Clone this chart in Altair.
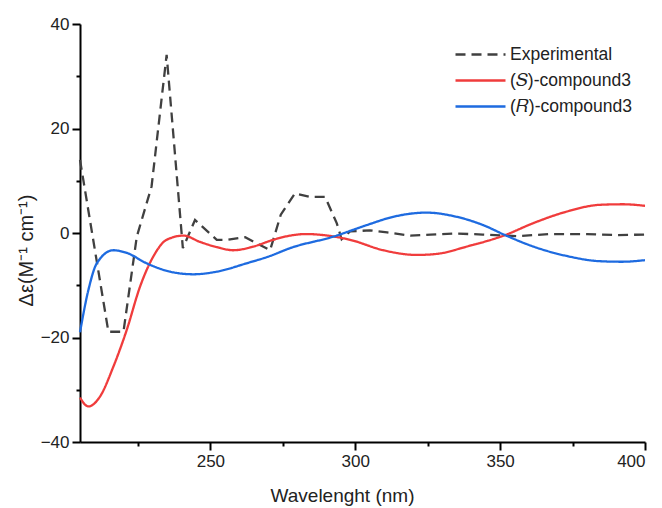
import altair as alt
import pandas as pd

# Experimental CD spectrum
exp_nm = [205, 214.8, 220, 224.6, 229.7, 234.9, 240.5, 244.7, 252.2, 256, 262, 270.6,
          274.3, 279.2, 284.4, 289.6, 293.6, 295.3, 298.2, 305, 311, 319, 326, 335,
          344, 356, 367, 380, 390, 400]
exp_val = [14, -18.9, -18.9, -0.7, 8.9, 34.1, -2.9, 2.5, -1.3, -1.3, -0.8, -3.3,
           3.5, 7.6, 6.9, 6.9, 1.9, -1.2, 0.3, 0.5, 0.1, -0.5, -0.3, -0.1,
           -0.3, -0.6, -0.2, -0.2, -0.4, -0.3]

# (S)-compound3 calculated
s_nm = [205, 207.9, 211.9, 216.5, 221.1, 225.7, 230.3, 234.9, 240.7, 246.4, 252.2, 257.9,
        264.8, 271.7, 277.5, 283, 289, 298.2, 309.7, 321.2, 328.1, 338.5, 351.7, 361.5,
        373, 384.5, 392.5, 400]
s_val = [-31.5, -33.2, -31.3, -25.6, -18.6, -10.3, -4.5, -1.3, -0.5, -1.7, -2.7, -3.3,
         -2.6, -1.3, -0.5, -0.2, -0.4, -1.3, -3.3, -4.2, -4.0, -2.6, -0.4, 1.9,
         4.1, 5.4, 5.5, 5.2]

# (R)-compound3 calculated
r_nm = [205, 207.9, 210.8, 216.5, 221.1, 228, 236.1, 244.1, 252.2, 262.5, 270.6, 277.5,
        292.4, 303.9, 313.1, 324.6, 335, 344.2, 351.7, 361.5, 373, 384.5, 392, 400]
r_val = [-19, -10.9, -5.8, -3.3, -3.8, -5.8, -7.4, -7.9, -7.4, -5.8, -4.4, -2.9,
         -0.7, 1.5, 3.1, 3.9, 3.1, 1.5, -0.4, -2.6, -4.4, -5.4, -5.5, -5.2]

series_names = ["Experimental", "(𝑆)-compound3", "(𝑅)-compound3"]
series_colors = ["#404040", "#F03C3C", "#1E6BE0"]
series_dash = [[10, 6], [1, 0], [1, 0]]

exp_df = pd.DataFrame({"nm": exp_nm, "val": exp_val, "series": series_names[0]})
calc_df = pd.concat([
    pd.DataFrame({"nm": s_nm, "val": s_val, "series": series_names[1]}),
    pd.DataFrame({"nm": r_nm, "val": r_val, "series": series_names[2]}),
])

FONT = "Liberation Sans"

x_enc = alt.X("nm:Q", scale=alt.Scale(domain=[205, 400], nice=False, zero=False),
              axis=alt.Axis(values=[225, 250, 275, 300, 325, 350, 375, 400],
                            labelExpr="datum.value % 50 === 0 ? datum.label : ''",
                            tickSize={"condition": {"test": "datum.value % 50 === 0", "value": 8}, "value": 4},
                            title="Wavelenght (nm)", titleX=262, titlePadding=17,
                            titleFontSize=19))
y_enc = alt.Y("val:Q", scale=alt.Scale(domain=[-40, 40], nice=False),
              axis=alt.Axis(values=[-40, -30, -20, -10, 0, 10, 20, 30, 40],
                            labelExpr="datum.value % 20 === 0 ? datum.label : ''",
                            tickSize={"condition": {"test": "datum.value % 20 === 0", "value": 8}, "value": 4},
                            title="Δε(M⁻¹ cm⁻¹)", titlePadding=4, titleY=226,
                            titleFontSize=20))
color_enc = alt.Color("series:N", scale=alt.Scale(domain=series_names, range=series_colors),
                      sort=series_names, legend=alt.Legend(title=None))
dash_enc = alt.StrokeDash("series:N", scale=alt.Scale(domain=series_names, range=series_dash),
                          sort=series_names, legend=alt.Legend(title=None))

exp_line = alt.Chart(exp_df).mark_line(strokeWidth=2.3, interpolate="linear").encode(
    x=x_enc, y=y_enc, color=color_enc, strokeDash=dash_enc)
calc_line = alt.Chart(calc_df).mark_line(strokeWidth=2.3, interpolate="monotone").encode(
    x=x_enc, y=y_enc, color=color_enc, strokeDash=dash_enc, detail="series:N")

chart = alt.layer(exp_line, calc_line).properties(
    width=565, height=418,
    autosize=alt.AutoSizeParams(type="none"),
    padding={"left": 72, "top": 16, "right": 9, "bottom": 66},
).configure_view(stroke=None).configure_axis(
    domainColor="black", domainWidth=2, tickColor="black", tickWidth=2,
    labelFont=FONT, labelFontSize=17, labelColor="#222222", labelPadding=3,
    titleFont=FONT, titleFontWeight="normal", titleColor="#222222",
    grid=False,
).configure_legend(
    orient="none", legendX=389, legendY=19, labelFont=FONT, labelFontSize=17.5,
    labelColor="#222222", symbolType="M-2.5,0H2.5", symbolSize=400, symbolStrokeWidth=2.5,
    rowPadding=6, labelOffset=18,
)

chart.save("out.html", embed_options={"renderer": "svg", "actions": False})
